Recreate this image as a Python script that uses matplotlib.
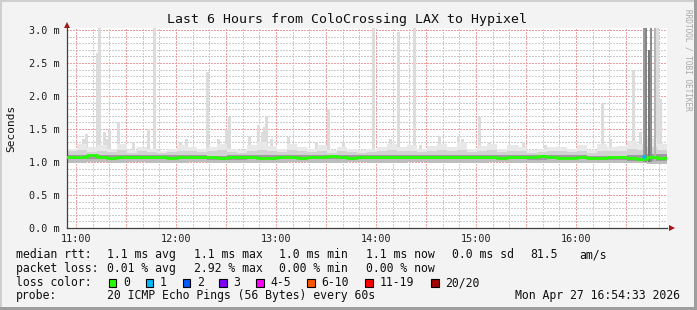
import numpy as np
import matplotlib
matplotlib.use("Agg")
import matplotlib.pyplot as plt
from matplotlib.patches import Rectangle

# ---------------- data ----------------
title = "Last 6 Hours from ColoCrossing LAX to Hypixel"
start_time = "10:54:33"
span_minutes = 360
xtick_labels = ["11:00", "12:00", "13:00", "14:00", "15:00", "16:00"]
ytick_values = [0.0, 0.5, 1.0, 1.5, 2.0, 2.5, 3.0]
ytick_labels = ["0.0 m", "0.5 m", "1.0 m", "1.5 m", "2.0 m", "2.5 m", "3.0 m"]

# median rtt (ms), one value per 6 minutes
median_rtt = [1.08, 1.08, 1.11, 1.08, 1.06, 1.07, 1.08, 1.07, 1.08, 1.07,
              1.06, 1.07, 1.08, 1.07, 1.07, 1.06, 1.07, 1.08, 1.07, 1.06,
              1.06, 1.07, 1.07, 1.06, 1.07, 1.08, 1.09, 1.07, 1.06, 1.07,
              1.08, 1.08, 1.07, 1.08, 1.07, 1.08, 1.07, 1.07, 1.08, 1.07,
              1.07, 1.08, 1.07, 1.06, 1.07, 1.07, 1.08, 1.09, 1.07, 1.06,
              1.06, 1.07, 1.06, 1.06, 1.07, 1.07, 1.06, 1.05, 1.07, 1.06]
# top of light smoke (max ping) per 6 minutes
smoke_max = [1.20, 1.28, 1.22, 1.26, 1.20, 1.27, 1.18, 1.23, 1.20, 1.17,
             1.19, 1.26, 1.22, 1.20, 1.23, 1.28, 1.20, 1.18, 1.26, 1.30,
             1.24, 1.20, 1.28, 1.23, 1.20, 1.26, 1.18, 1.22, 1.20, 1.18,
             1.20, 1.23, 1.28, 1.22, 1.26, 1.20, 1.24, 1.28, 1.22, 1.30,
             1.20, 1.24, 1.28, 1.20, 1.26, 1.23, 1.18, 1.20, 1.23, 1.22,
             1.20, 1.26, 1.18, 1.28, 1.22, 1.24, 1.32, 1.28, 1.36, 1.28]
# smoke percentiles per 6 minutes
smoke_p90 = [1.16, 1.18, 1.15, 1.17, 1.15, 1.18, 1.14, 1.16, 1.15, 1.14,
             1.15, 1.17, 1.16, 1.15, 1.16, 1.18, 1.15, 1.14, 1.17, 1.18,
             1.16, 1.15, 1.18, 1.16, 1.15, 1.17, 1.14, 1.16, 1.15, 1.14,
             1.15, 1.16, 1.18, 1.16, 1.17, 1.15, 1.16, 1.18, 1.16, 1.18,
             1.15, 1.16, 1.18, 1.15, 1.17, 1.16, 1.14, 1.15, 1.16, 1.16,
             1.15, 1.17, 1.14, 1.17, 1.16, 1.16, 1.20, 1.18, 1.22, 1.18]
# smoke percentiles per 12 minutes
smoke_min = [0.99, 1.00, 0.99, 1.00, 0.99, 0.99, 1.00, 0.98, 0.98, 0.99,
             0.99, 1.00, 0.99, 0.99, 1.00, 0.99, 0.99, 1.00, 0.99, 0.99,
             0.99, 1.00, 0.99, 0.98, 0.99, 0.99, 0.98, 0.98, 0.98, 0.97]
smoke_q1 = [1.04, 1.05, 1.04, 1.05, 1.04, 1.04, 1.05, 1.03, 1.03, 1.04,
            1.04, 1.05, 1.04, 1.04, 1.05, 1.04, 1.04, 1.05, 1.04, 1.04,
            1.04, 1.05, 1.04, 1.03, 1.04, 1.04, 1.03, 1.03, 1.02, 1.02]
smoke_q3 = [1.11, 1.11, 1.10, 1.11, 1.11, 1.10, 1.10, 1.09, 1.10, 1.10,
            1.10, 1.11, 1.11, 1.10, 1.11, 1.10, 1.10, 1.11, 1.10, 1.11,
            1.11, 1.11, 1.10, 1.10, 1.10, 1.10, 1.09, 1.09, 1.11, 1.12]
# narrow spikes of the slowest pings: minute offset and height (ms)
spike_minutes = [9.6, 11.4, 18.0, 19.2, 22.2, 23.4, 25.2, 30.6, 39.6, 48.6,
                 52.2, 54.0, 67.8, 71.4, 84.4, 90.6, 95.4, 97.2, 109.2, 114.6,
                 117.0, 118.2, 119.4, 122.4, 132.6, 149.4, 156.6, 165.6, 183.6, 193.8,
                 198.6, 208.2, 211.8, 223.2, 234.6, 237.0, 247.2, 253.2, 269.4, 273.6,
                 286.8, 321.0, 325.8, 339.6, 343.8, 354.0, 355.8]
spike_heights = [1.35, 1.42, 2.65, 3.10, 1.45, 1.35, 1.50, 1.60, 1.30, 1.50,
                 3.10, 1.20, 1.30, 1.35, 2.36, 1.35, 1.50, 1.68, 1.40, 1.56,
                 1.45, 1.53, 1.70, 1.35, 1.38, 1.30, 1.80, 1.30, 3.10, 1.35,
                 2.97, 3.10, 1.25, 1.40, 1.40, 1.35, 1.68, 1.30, 1.25, 1.30,
                 1.25, 1.90, 1.35, 2.40, 1.45, 3.10, 1.95]
# dark burst near the end (several pings slow)
burst_minutes = [346.2, 347.4, 349.2, 350.4, 352.8]
burst_heights = [3.10, 3.10, 2.70, 3.10, 3.10]
burst_grays = ["#9a9a9a", "#858585", "#767676", "#8e8e8e", "#b4b4b4"]
# loss per median step (minute offset, lost pings of 20)
loss_minutes = [345.6]
loss_counts = [1]

loss_color_labels = ["0", "1", "2", "3", "4-5", "6-10", "11-19", "20/20"]
loss_colors = ["#26ff00", "#00b8ff", "#0059ff", "#7e00ff", "#ff00ff",
               "#ff5500", "#ff0000", "#a10000"]

legend_rows = [
    ["median rtt:", "1.1 ms avg", "1.1 ms max", "1.0 ms min", "1.1 ms now", "0.0 ms sd", "81.5", "am/s"],
    ["packet loss:", "0.01 % avg", "2.92 % max", "0.00 % min", "0.00 % now"],
]
probe_text = ["probe:", "20 ICMP Echo Pings (56 Bytes) every 60s"]
timestamp = "Mon Apr 27 16:54:33 2026"

# ---------------- figure ----------------
W, H = 697, 310
fig = plt.figure(figsize=(W / 100, H / 100), dpi=100)
fig.patch.set_facecolor("#f3f3f3")
MONO = "DejaVu Sans Mono"


def fx(px):
    return px / W


def fy(py):
    return 1 - py / H


ax = fig.add_axes([fx(67), fy(228), 600 / W, 200 / H])
ax.set_facecolor("white")
ax.set_xlim(0, span_minutes)
ax.set_ylim(0, 3.03)


def to_min(s):
    parts = [int(p) for p in s.split(":")]
    while len(parts) < 3:
        parts.append(0)
    return parts[0] * 60 + parts[1] + parts[2] / 60


t0 = to_min(start_time)
first_tick = to_min(xtick_labels[0]) - t0
xtick_pos = [to_min(l) - t0 for l in xtick_labels]

# grid (crisp 1px dotted lines)
gkw = dict(lw=0.75, ls=(0, (1, 1)), antialiased=False)
minor_x = np.arange(first_tick, span_minutes, 10)
major_x = np.arange(first_tick, span_minutes, 30)
for xv in minor_x:
    ax.axvline(xv, color="#cccccc", zorder=0, **gkw)
for yv in np.arange(0.1, 3.01, 0.1):
    ax.axhline(yv, color="#cccccc", zorder=0, **gkw)
for xv in major_x:
    ax.axvline(xv, color="#eea0a0", zorder=0.5, **gkw)
for yv in ytick_values[1:]:
    ax.axhline(yv, color="#eea0a0", zorder=0.5, **gkw)

# smoke
t6 = np.arange(len(median_rtt)) * 6.0
t12 = np.arange(len(smoke_min)) * 12.0


def ext(t, v):
    return np.append(t, span_minutes), np.append(v, v[-1])


ax.bar(spike_minutes, np.array(spike_heights) - 1.0, bottom=1.0, width=1.8,
       color="#dcdcdc", align="center", zorder=1, linewidth=0)
x6, ys = ext(t6, smoke_max)
_, yp = ext(t6, smoke_p90)
x12, ymin = ext(t12, smoke_min)
_, yq1 = ext(t12, smoke_q1)
_, yq3 = ext(t12, smoke_q3)
ax.fill_between(x6, 1.0, ys, step="post", color="#e8e8e8", lw=0, zorder=1.2)
ax.fill_between(x6, 1.0, yp, step="post", color="#d2d2d2", lw=0, zorder=1.3)
ax.fill_between(x12, ymin, yq1, step="post", color="#bdbdbd", lw=0, zorder=1.35)
ax.fill_between(x12, yq1, yq3, step="post", color="#9c9c9c", lw=0, zorder=1.4)
ax.bar(burst_minutes, np.array(burst_heights) - 1.0, bottom=1.0, width=1.6,
       color=burst_grays, align="center", zorder=1.5, linewidth=0)

# median line
xm, ym = ext(t6, median_rtt)
ax.step(xm, ym, where="post", color=loss_colors[0], lw=2.0, zorder=3)
for lm, lc in zip(loss_minutes, loss_counts):
    idx = min(int(lm // 6), len(median_rtt) - 1)
    ax.plot([lm, lm + 1.5], [median_rtt[idx] + 0.05, median_rtt[idx]],
            color=loss_colors[lc], lw=2.0, zorder=3.5, solid_capstyle="butt")

# axes styling
for s in ["top", "right"]:
    ax.spines[s].set_visible(False)
for s in ["left", "bottom"]:
    ax.spines[s].set_color("#404040")
    ax.spines[s].set_linewidth(0.9)
ax.set_xticks(xtick_pos)
ax.set_xticklabels(xtick_labels)
ax.set_yticks(ytick_values)
ax.set_yticklabels(ytick_labels)
ax.tick_params(axis="both", length=0, labelsize=7.3, colors="#202020")
ax.tick_params(axis="y", pad=5.5)
ax.tick_params(axis="x", pad=4)
for lab in ax.get_xticklabels() + ax.get_yticklabels():
    lab.set_fontfamily(MONO)

# arrows
ax.plot([0], [1.0 + 3 / 200], transform=ax.transAxes, marker="^", ms=5,
        color="#a01818", clip_on=False, zorder=5, mew=0)
ax.plot([1.0 + 5 / 600], [0], transform=ax.transAxes, marker=">", ms=5,
        color="#a01818", clip_on=False, zorder=5, mew=0)

# texts
fig.text(fx(347), fy(19.5), title, ha="center", va="center", family=MONO,
         fontsize=9.5, color="#101010")
fig.text(fx(11), fy(128), "Seconds", rotation=90, ha="center", va="center",
         family=MONO, fontsize=8, color="#101010")
fig.text(fx(688), fy(60), "RRDTOOL / TOBI OETIKER", rotation=270, ha="center",
         va="center", family=MONO, fontsize=5.6, color="#a8a8a8")

row_x = [16, 107, 194, 279, 366, 452, 530, 579]
row_y = [254.5, 268.5]
for r, items in enumerate(legend_rows):
    for i, txt in enumerate(items):
        fig.text(fx(row_x[i]), fy(row_y[r]), txt, ha="left", va="center",
                 family=MONO, fontsize=8.3, color="#101010")

# loss colour row
fig.text(fx(16), fy(282.5), "loss color:", ha="left", va="center", family=MONO,
         fontsize=8.3, color="#101010")
box_x = [108.5, 145.5, 182.5, 219, 256, 307, 365, 431]
for bx, col, lab in zip(box_x, loss_colors, loss_color_labels):
    fig.add_artist(Rectangle((fx(bx), fy(286.5)), 7.5 / W, 7.5 / H,
                             transform=fig.transFigure, facecolor=col,
                             edgecolor="black", lw=0.8))
    fig.text(fx(bx + 14.5), fy(282.5), lab, ha="left", va="center", family=MONO,
             fontsize=8.3, color="#101010")

fig.text(fx(16), fy(296), probe_text[0], ha="left", va="center", family=MONO,
         fontsize=8.3, color="#101010")
fig.text(fx(107), fy(296), probe_text[1], ha="left", va="center", family=MONO,
         fontsize=8.3, color="#101010")
fig.text(fx(680), fy(296), timestamp, ha="right", va="center", family=MONO,
         fontsize=8.3, color="#101010")

# frame
fig.add_artist(Rectangle((0, 0), 2 / W, 1, transform=fig.transFigure, color="#cfcfcf", lw=0))
fig.add_artist(Rectangle((0, 1 - 2 / H), 1, 2 / H, transform=fig.transFigure, color="#cfcfcf", lw=0))
fig.add_artist(Rectangle((1 - 3 / W, 0), 3 / W, 1, transform=fig.transFigure, color="#9e9e9e", lw=0))
fig.add_artist(Rectangle((0, 0), 1, 3 / H, transform=fig.transFigure, color="#9e9e9e", lw=0))

fig.savefig("out.png", dpi=100, facecolor=fig.get_facecolor())
